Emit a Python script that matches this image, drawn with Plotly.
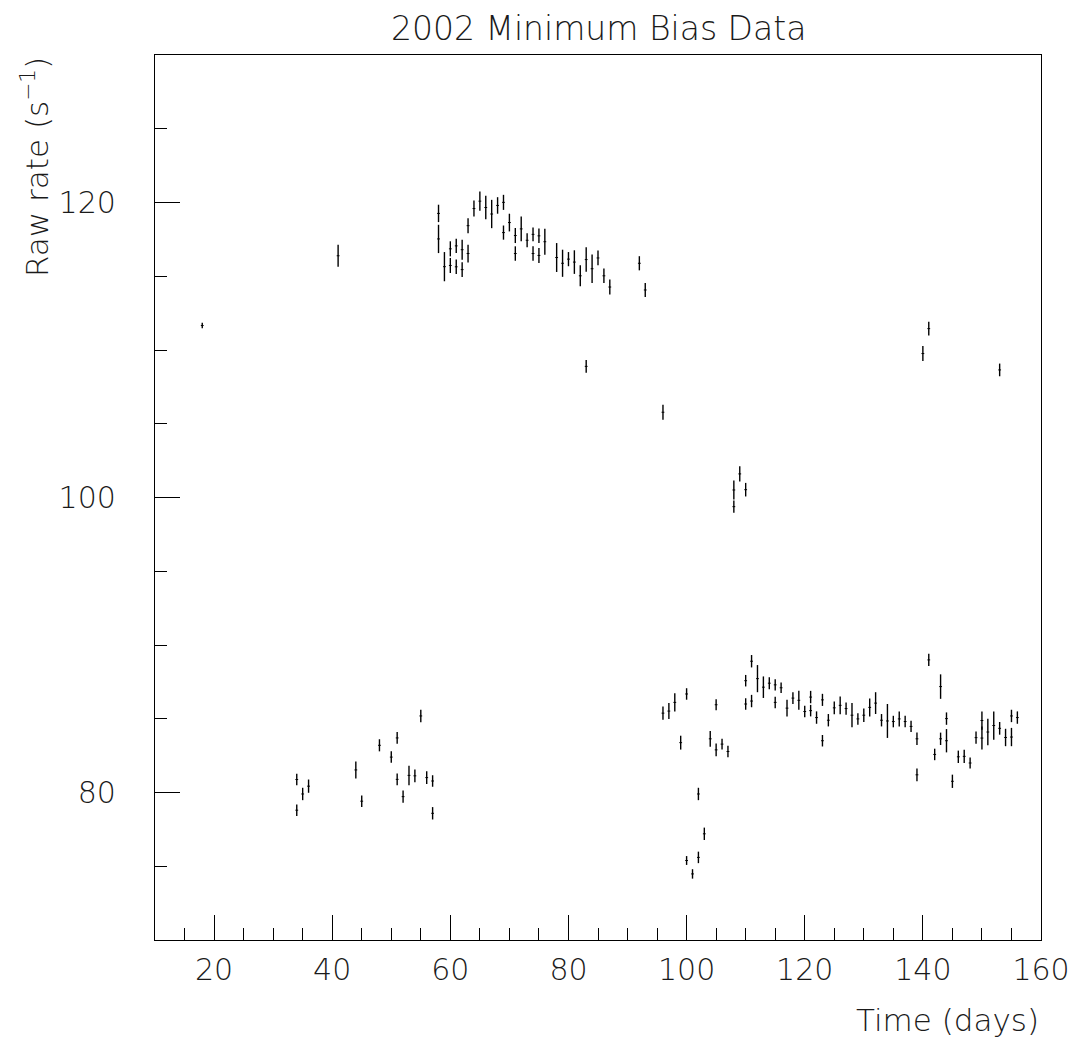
import plotly.graph_objects as go

days = [18, 34, 34, 35, 36, 41, 44, 45, 48, 50, 51, 51, 52, 53, 54, 55, 56, 57, 57,
        58, 58, 59, 60, 60, 61, 61, 62, 62, 63, 63, 64, 65, 66, 67, 68, 69, 69, 70,
        71, 71, 72, 73, 74, 74, 75, 75, 76, 78, 79, 80, 81, 82, 83, 83, 84, 85, 86,
        87, 92, 93, 96, 96, 97, 98, 99, 100, 100, 101, 102, 102, 103, 104, 105, 105,
        106, 107, 108, 108, 109, 110, 110, 110, 111, 111, 112, 113, 114, 115, 115,
        116, 117, 118, 119, 120, 121, 121, 122, 123, 123, 124, 125, 126, 127, 128,
        129, 130, 131, 132, 133, 134, 135, 136, 137, 138, 139, 139, 140, 141, 141,
        142, 143, 143, 144, 144, 145, 146, 147, 148, 149, 150, 150, 151, 152, 153,
        153, 154, 155, 155, 156]

rates = [111.66, 80.88, 78.80, 79.90, 80.43, 116.39, 81.53, 79.41, 83.20, 82.40,
         83.70, 80.89, 79.72, 81.16, 81.13, 85.19, 81.01, 80.78, 78.59,
         119.26, 117.53, 115.65, 116.86, 115.73, 117.06, 115.64, 116.80, 115.45,
         116.54, 118.43, 119.59, 120.09, 119.66, 119.22, 119.80, 120.01, 117.96,
         118.64, 117.76, 116.54, 118.21, 117.44, 117.84, 116.54, 117.74, 116.41,
         117.34, 116.27, 115.88, 116.16, 115.96, 115.03, 116.13, 108.89, 115.51,
         116.24, 115.03, 114.27, 115.88, 114.07, 105.78, 85.38, 85.52, 86.11, 83.38,
         86.68, 75.39, 74.48, 79.90, 75.60, 77.20, 83.64, 85.95, 82.89, 83.28, 82.78,
         100.51, 99.38, 101.60, 100.53, 87.58, 86.00, 88.90, 86.20, 87.72, 87.14,
         87.41, 87.30, 86.11, 87.10, 85.72, 86.40, 86.25, 85.49, 86.47, 85.55, 85.08,
         86.28, 83.51, 84.90, 85.74, 85.91, 85.69, 85.24, 84.99, 85.24, 85.77, 86.06,
         84.90, 84.85, 84.81, 84.99, 84.81, 84.48, 83.64, 81.20, 109.76, 111.45,
         88.99, 82.58, 87.18, 83.64, 85.01, 83.51, 80.76, 82.42, 82.45, 82.00, 83.72,
         84.88, 83.69, 84.10, 84.54, 108.65, 84.35, 83.73, 85.19, 83.76, 85.08]

errors = [0.19, 0.39, 0.39, 0.42, 0.45, 0.75, 0.58, 0.39, 0.41, 0.39, 0.40, 0.40,
          0.42, 0.66, 0.43, 0.42, 0.43, 0.39, 0.42,
          0.59, 0.96, 0.99, 0.51, 0.51, 0.49, 0.49, 0.68, 0.50, 0.60, 0.51, 0.54,
          0.65, 0.79, 0.96, 0.56, 0.51, 0.48, 0.60, 0.51, 0.49, 0.84, 0.48, 0.47,
          0.49, 0.49, 0.51, 0.88, 0.98, 0.92, 0.48, 0.80, 0.71, 0.83, 0.44, 0.96,
          0.50, 0.49, 0.51, 0.48, 0.48, 0.51, 0.45, 0.54, 0.62, 0.47, 0.39, 0.30,
          0.32, 0.42, 0.39, 0.42, 0.53, 0.38, 0.43, 0.37, 0.39, 0.64, 0.42, 0.52,
          0.46, 0.39, 0.39, 0.42, 0.42, 0.92, 0.73, 0.41, 0.38, 0.39, 0.36, 0.56,
          0.40, 0.64, 0.39, 0.42, 0.39, 0.42, 0.41, 0.39, 0.42, 0.43, 0.60, 0.42,
          0.82, 0.39, 0.46, 0.61, 0.74, 0.42, 1.15, 0.39, 0.51, 0.39, 0.38, 0.42,
          0.43, 0.51, 0.46, 0.41, 0.39, 0.83, 0.42, 0.42, 0.79, 0.45, 0.42, 0.45,
          0.38, 0.41, 0.62, 0.78, 0.90, 0.96, 0.43, 0.43, 0.59, 0.42, 0.62, 0.42]

title_text = "2002 Minimum Bias Data"
x_title = "Time (days)"
y_title = "Raw rate (s<sup>−1</sup>)"

FONT = "'DejaVu Sans', sans-serif"
TXT = "#1a1a1a"
W = 200

fig = go.Figure()
fig.add_trace(go.Scatter(
    x=days, y=rates, mode="markers",
    marker=dict(size=2, color="black", symbol="line-ew-open",
                line=dict(width=1, color="#555")),
    error_y=dict(type="data", array=errors, visible=True,
                 color="black", thickness=1.4, width=0),
    showlegend=False, hoverinfo="x+y",
))

axis_common = dict(
    showline=True, linecolor="black", linewidth=1.3, mirror=True,
    showgrid=False, zeroline=False, automargin=False,
    ticks="inside", ticklen=25, tickwidth=1.2, tickcolor="black",
    tickfont=dict(family=FONT, size=30, color=TXT, weight=W),
)

fig.update_xaxes(range=[10, 160], tick0=0, dtick=20,
                 minor=dict(dtick=5, ticks="inside", ticklen=12, tickwidth=1.2,
                            tickcolor="black", showgrid=False),
                 ticklabelstandoff=3, **axis_common)
fig.update_yaxes(range=[70, 130], tick0=0, dtick=20,
                 minor=dict(dtick=5, ticks="inside", ticklen=12, tickwidth=1.2,
                            tickcolor="black", showgrid=False),
                 ticklabelstandoff=32, **axis_common)

fig.update_layout(
    width=1078, height=1038,
    margin=dict(l=155, r=37, t=55, b=98),
    paper_bgcolor="white", plot_bgcolor="white",
    annotations=[
        dict(text=title_text, x=0.5, y=1, xref="paper", yref="paper",
             xanchor="center", yanchor="middle", yshift=27, showarrow=False,
             font=dict(family=FONT, size=33, color=TXT, weight=W)),
        dict(text=x_title, x=1, y=0, xref="paper", yref="paper",
             xanchor="right", yanchor="middle", yshift=-80, showarrow=False,
             font=dict(family=FONT, size=31, color=TXT, weight=W)),
        dict(text=y_title, x=0, y=1, xref="paper", yref="paper",
             xanchor="center", yanchor="top", xshift=-120, yshift=0,
             textangle=-90, showarrow=False,
             font=dict(family=FONT, size=31, color=TXT, weight=W)),
    ],
)

fig.write_html("out.html")
